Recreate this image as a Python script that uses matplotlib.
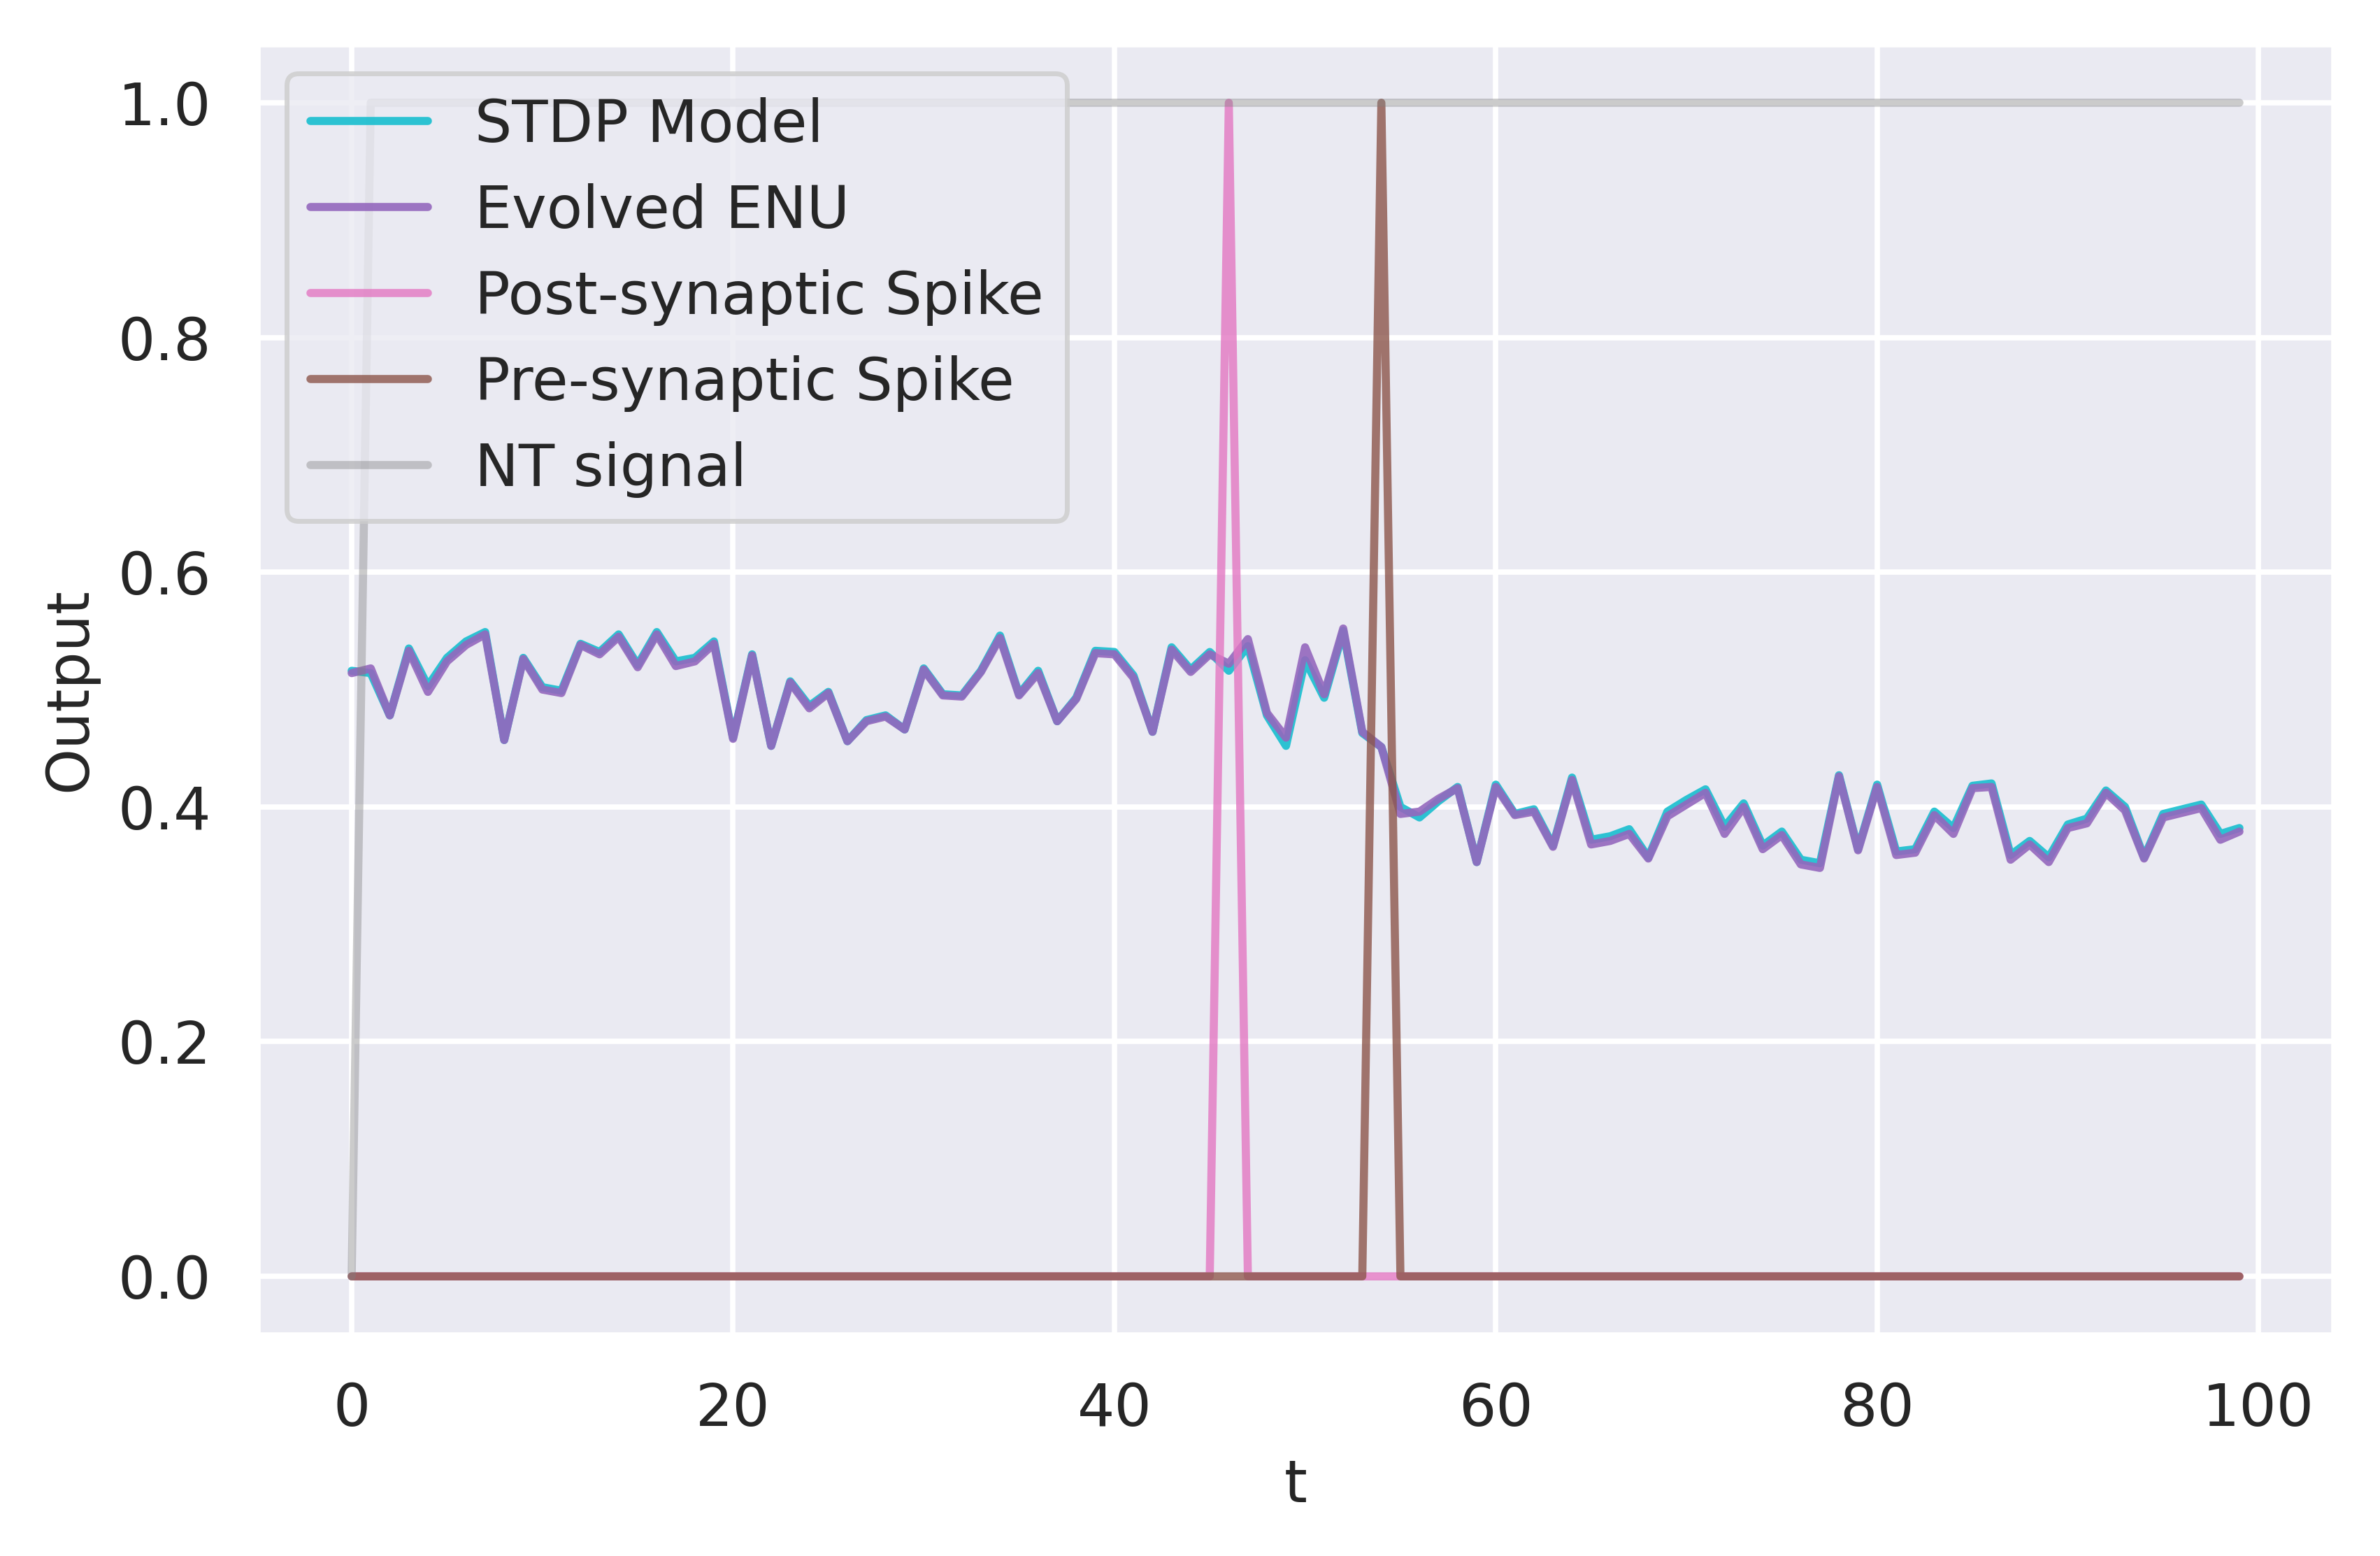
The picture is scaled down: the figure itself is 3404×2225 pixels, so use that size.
import numpy as np
import matplotlib
matplotlib.use('Agg')
import matplotlib.pyplot as plt
import seaborn as sns

sns.set_theme(style='darkgrid')
plt.rcParams['font.family'] = ['DejaVu Sans']

# time steps
t = np.arange(100)

# STDP model output
stdp_model = [
    0.516, 0.514, 0.478, 0.535, 0.503, 0.527, 0.541, 0.549, 0.457, 0.527,
    0.502, 0.499, 0.539, 0.532, 0.547, 0.521, 0.549, 0.524, 0.527, 0.541,
    0.459, 0.530, 0.452, 0.507, 0.486, 0.498, 0.456, 0.474, 0.478, 0.466,
    0.518, 0.496, 0.495, 0.516, 0.546, 0.496, 0.516, 0.473, 0.493, 0.533,
    0.532, 0.512, 0.464, 0.536, 0.517, 0.532, 0.516, 0.537, 0.478, 0.452,
    0.525, 0.493, 0.550, 0.463, 0.451, 0.400, 0.391, 0.405, 0.417, 0.353,
    0.419, 0.394, 0.398, 0.367, 0.425, 0.372, 0.375, 0.381, 0.357, 0.396,
    0.406, 0.415, 0.383, 0.403, 0.367, 0.379, 0.355, 0.352, 0.427, 0.364,
    0.419, 0.362, 0.364, 0.396, 0.382, 0.418, 0.420, 0.359, 0.371, 0.357,
    0.385, 0.390, 0.414, 0.400, 0.357, 0.394, 0.398, 0.402, 0.377, 0.382,
]

# evolved ENU output
evolved_enu = [
    0.514, 0.518, 0.478, 0.533, 0.498, 0.524, 0.538, 0.547, 0.457, 0.526,
    0.500, 0.497, 0.538, 0.530, 0.545, 0.519, 0.547, 0.520, 0.524, 0.539,
    0.458, 0.529, 0.452, 0.506, 0.484, 0.497, 0.456, 0.473, 0.477, 0.466,
    0.517, 0.495, 0.494, 0.515, 0.544, 0.495, 0.514, 0.473, 0.492, 0.531,
    0.530, 0.510, 0.464, 0.534, 0.515, 0.530, 0.522, 0.543, 0.480, 0.459,
    0.536, 0.496, 0.552, 0.464, 0.451, 0.394, 0.396, 0.407, 0.416, 0.353,
    0.417, 0.393, 0.396, 0.366, 0.423, 0.368, 0.371, 0.377, 0.356, 0.392,
    0.402, 0.412, 0.377, 0.400, 0.364, 0.376, 0.351, 0.348, 0.426, 0.363,
    0.417, 0.359, 0.361, 0.393, 0.377, 0.416, 0.417, 0.355, 0.368, 0.353,
    0.382, 0.386, 0.412, 0.397, 0.356, 0.391, 0.395, 0.399, 0.372, 0.379,
]

# spike times and neurotransmitter signal
post_spike_t = 46
pre_spike_t = 54
post_spike = np.zeros(100)
post_spike[post_spike_t] = 1.0
pre_spike = np.zeros(100)
pre_spike[pre_spike_t] = 1.0
nt_signal = np.ones(100)
nt_signal[0] = 0.0

dpi = 500
fig = plt.figure(figsize=(3404 / dpi, 2225 / dpi), dpi=dpi)
ax = fig.add_axes([0.1081, 0.1420, 0.8725, 0.8297])

lw = 1.67
fs = 12.1
ax.plot(t, stdp_model, color='tab:cyan', alpha=0.9, lw=lw, label='STDP Model')
ax.plot(t, evolved_enu, color='tab:purple', alpha=0.9, lw=lw, label='Evolved ENU')
ax.plot(t, post_spike, color='tab:pink', alpha=0.8, lw=lw, label='Post-synaptic Spike')
ax.plot(t, pre_spike, color='tab:brown', alpha=0.8, lw=lw, label='Pre-synaptic Spike')
ax.plot(t, nt_signal, color='tab:gray', alpha=0.4, lw=lw, label='NT signal')

ax.set_xlabel('t', fontsize=fs)
ax.set_ylabel('Output', fontsize=fs)
ax.tick_params(labelsize=fs)
ax.grid(lw=1.11)
ax.legend(loc='upper left', fontsize=fs)

fig.savefig('out.png', dpi=dpi)
